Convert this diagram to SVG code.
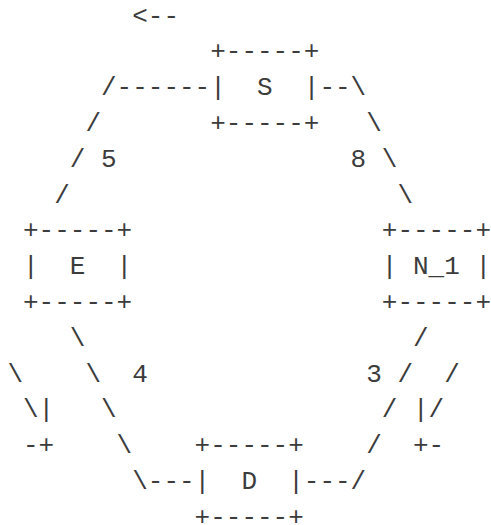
<svg xmlns="http://www.w3.org/2000/svg" width="491" height="525" viewBox="0 0 491 525">
<style>
text { font-family: "Liberation Mono", "DejaVu Sans Mono", monospace; font-size: 26px; fill: #3c3c3c; white-space: pre; }
</style>
<rect width="491" height="525" fill="#ffffff"/>
<g id="node-S">
<text x="210.2" y="59.3" xml:space="preserve">+-----+</text>
<text x="210.2" y="95.1" xml:space="preserve">|  S  |</text>
<text x="210.2" y="130.9" xml:space="preserve">+-----+</text>
</g>
<g id="node-E">
<text x="23" y="238.3" xml:space="preserve">+-----+</text>
<text x="23" y="274.1" xml:space="preserve">|  E  |</text>
<text x="23" y="309.9" xml:space="preserve">+-----+</text>
</g>
<g id="node-N_1">
<text x="381.8" y="238.3" xml:space="preserve">+-----+</text>
<text x="381.8" y="274.1" xml:space="preserve">| N_1 |</text>
<text x="381.8" y="309.9" xml:space="preserve">+-----+</text>
</g>
<g id="node-D">
<text x="194.6" y="453.1" xml:space="preserve">+-----+</text>
<text x="194.6" y="488.9" xml:space="preserve">|  D  |</text>
<text x="194.6" y="524.7" xml:space="preserve">+-----+</text>
</g>
<g id="connectors">
<text x="132.2" y="23.5" xml:space="preserve">&lt;--</text>
<text x="101" y="95.1" xml:space="preserve">/------</text>
<text x="319.4" y="95.1" xml:space="preserve">--\</text>
<text x="85.4" y="130.9" xml:space="preserve">/</text>
<text x="366.2" y="130.9" xml:space="preserve">\</text>
<text x="69.8" y="166.7" xml:space="preserve">/ 5</text>
<text x="350.6" y="166.7" xml:space="preserve">8 \</text>
<text x="54.2" y="202.5" xml:space="preserve">/</text>
<text x="397.4" y="202.5" xml:space="preserve">\</text>
<text x="69.8" y="345.7" xml:space="preserve">\</text>
<text x="413" y="345.7" xml:space="preserve">/</text>
<text x="7.4" y="381.5" xml:space="preserve">\    \  4</text>
<text x="366.2" y="381.5" xml:space="preserve">3 /  /</text>
<text x="23" y="417.3" xml:space="preserve">\|   \</text>
<text x="381.8" y="417.3" xml:space="preserve">/ |/</text>
<text x="23" y="453.1" xml:space="preserve">-+    \</text>
<text x="366.2" y="453.1" xml:space="preserve">/  +-</text>
<text x="132.2" y="488.9" xml:space="preserve">\---</text>
<text x="303.8" y="488.9" xml:space="preserve">---/</text>
</g>
</svg>
